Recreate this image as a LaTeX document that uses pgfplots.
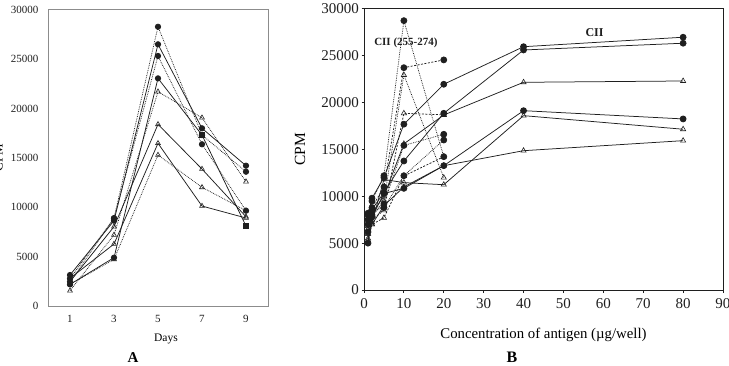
\documentclass[border=0pt]{standalone}
\usepackage{fontspec}
\setmainfont{Liberation Serif}
\usepackage{pgfplots}
\pgfplotsset{compat=1.18}

\definecolor{ink}{gray}{0.12}
\definecolor{frameA}{gray}{0.55}

\pgfplotsset{
  lineS/.style={ink, line width=0.75pt, solid},
  lineD/.style={ink, line width=0.75pt, densely dotted},
  lineDa/.style={ink, line width=0.75pt, dash pattern=on 2pt off 1.5pt},
  mC/.style={mark=*, mark size=2.7pt, mark options={solid, fill=ink, draw=ink}},
  mT/.style={mark=triangle, mark size=2.8pt, mark options={solid, draw=ink, fill=white, line width=0.6pt}},
  mS/.style={mark=square*, mark size=2.4pt, mark options={solid, fill=ink, draw=ink}},
}

\begin{document}
\begin{tikzpicture}
% ---------------- Panel A: response over days ----------------
\begin{axis}[
  at={(48pt,59pt)}, anchor=south west,
  scale only axis, width=220pt, height=297pt,
  xmin=-0.5, xmax=4.5, ymin=0, ymax=30100,
  xtick={0,1,2,3,4}, xticklabels={1,3,5,7,9},
  ytick={0,5000,10000,15000,20000,25000,30000},
  axis line style={frameA, line width=0.8pt},
  major tick length=0pt,
  /pgf/number format/assume math mode=true,
  /pgf/number format/fixed,
  /pgf/number format/1000 sep={},
  scaled y ticks=false,
  ticklabel style={font=\fontsize{11}{11}\selectfont, text=ink},
  xticklabel style={yshift=-6pt},
  yticklabel style={xshift=-6pt},
  xlabel={Days},
  xlabel style={font=\fontsize{11.5}{12}\selectfont, at={(axis description cs:0.536,-0.111)}, anchor=center},
  ylabel={CPM},
  ylabel style={font=\fontsize{13}{13}\selectfont, at={(axis description cs:-0.225,0.5)}, anchor=center},
  clip=false,
]
\addplot[lineD, mC] coordinates {(0,2800) (1,8900) (2,28300) (3,17330) (4,13610)};
\addplot[lineS, mC] coordinates {(0,3140) (1,8650) (2,26520) (3,18010) (4,14220)};
\addplot[lineD, mC] coordinates {(0,2470) (1,8890) (2,25340) (3,16390) (4,9660)};
\addplot[lineS, mC] coordinates {(0,2190) (1,4900) (2,23070) (3,17330)};
\addplot[lineS, mS] coordinates {(3,17330) (4,8110)};
\addplot[lineD, mT] coordinates {(0,1550) (1,7200) (2,21720) (3,19080) (4,12600)};
\addplot[lineS, mT] coordinates {(0,2470) (1,8040) (2,18410) (3,13880) (4,9050)};
\addplot[lineS, mT] coordinates {(0,2800) (1,6280) (2,16490) (3,10130) (4,8920)};
\addplot[lineD, mT] coordinates {(0,2190) (1,4730) (2,15300) (3,12030) (4,9660)};
\node[font=\fontsize{15}{15}\selectfont\bfseries] at (axis description cs:0.386,-0.172) {A};
\end{axis}

% ---------------- Panel B: dose response ----------------
\begin{axis}[
  at={(364pt,75pt)}, anchor=south west,
  scale only axis, width=359pt, height=282pt,
  xmin=0, xmax=90, ymin=0, ymax=30100,
  xtick={0,10,...,90},
  ytick={0,5000,10000,15000,20000,25000,30000},
  axis line style={ink, line width=0.9pt},
  tick style={ink, line width=0.9pt},
  tick align=outside, major tick length=2.5pt,
  xtick pos=bottom, ytick pos=left,
  /pgf/number format/assume math mode=true,
  /pgf/number format/fixed,
  /pgf/number format/1000 sep={},
  scaled y ticks=false,
  ticklabel style={font=\fontsize{15}{15}\selectfont, text=ink},
  xticklabel style={yshift=-2pt},
  yticklabel style={xshift=1pt},
  xlabel={Concentration of antigen (µg/well)},
  xlabel style={font=\fontsize{14.8}{15}\selectfont, at={(axis description cs:0.5,-0.16)}, anchor=center},
  ylabel={CPM},
  ylabel style={font=\fontsize{15.5}{16}\selectfont, at={(axis description cs:-0.178,0.5)}, anchor=center},
  clip=false,
  mC/.append style={mark size=3pt},
  mT/.append style={mark size=3pt},
]
% CII (solid)
\addplot[lineS, mC] coordinates {(1,8000) (2,9800) (5,12000) (10,17700) (20,21960) (40,25970) (80,26980)};
\addplot[lineS, mC] coordinates {(1,7000) (2,8600) (5,10400) (10,13770) (20,18860) (40,25620) (80,26340)};
\addplot[lineS, mT] coordinates {(1,6500) (2,8200) (5,10000) (10,15600) (20,18680) (40,22170) (80,22310)};
\addplot[lineS, mC] coordinates {(1,5000) (2,7800) (5,10300) (10,10850) (20,13270) (40,19140) (80,18260)};
\addplot[lineS, mT] coordinates {(1,6000) (2,7200) (5,11800) (10,11460) (20,11240) (40,18610) (80,17160)};
\addplot[lineS, mT] coordinates {(1,5500) (2,7000) (5,9000) (10,11000) (20,13270) (40,14870) (80,15940)};
% CII (255-274) (broken lines)
\addplot[lineD, mC] coordinates {(1,8200) (2,9500) (5,12200) (10,28750) (20,14230)};
\addplot[lineDa, mC] coordinates {(1,7500) (2,8800) (5,11000) (10,23730) (20,24560)};
\addplot[lineD, mT] coordinates {(1,6800) (2,8000) (5,9500) (10,22950) (20,11990)};
\addplot[lineDa, mT] coordinates {(1,6000) (2,7500) (5,8500) (10,18860) (20,18700)};
\addplot[lineDa, mT] coordinates {(1,5300) (2,7000) (5,7700) (10,12170) (20,14230)};
\addplot[lineD, mC] coordinates {(1,6200) (2,8000) (5,9200) (10,15430) (20,16620)};
\addplot[lineD, mC] coordinates {(2,8400) (5,8800) (10,12200) (20,16010)};
\node[font=\fontsize{11}{11}\selectfont\bfseries, text=ink] at (axis cs:10.5,26380) {CII (255-274)};
\node[font=\fontsize{12}{12}\selectfont\bfseries, text=ink] at (axis cs:57.8,27450) {CII};
\node[font=\fontsize{16}{16}\selectfont\bfseries] at (axis description cs:0.412,-0.24) {B};
\end{axis}

\pgfresetboundingbox
\useasboundingbox (0,0) rectangle (729pt,365pt);
\end{tikzpicture}
\end{document}
